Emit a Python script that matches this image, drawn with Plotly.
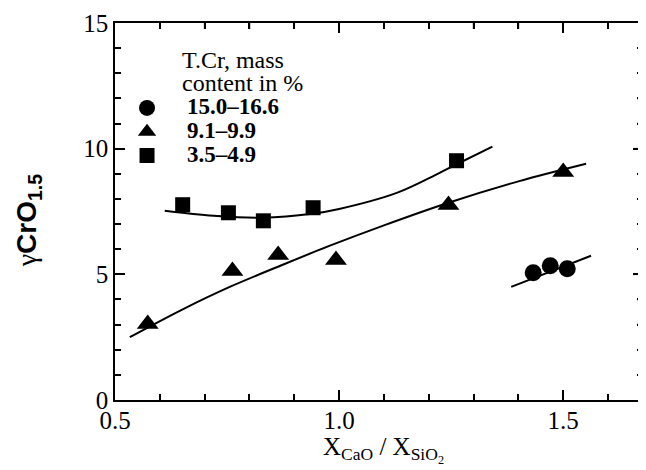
import plotly.graph_objects as go

# ---- data ----
circle_x = [1.433, 1.471, 1.509]
circle_y = [5.06, 5.34, 5.22]
tri_x = [0.573, 0.762, 0.864, 0.993, 1.244, 1.500]
tri_y = [3.02, 5.13, 5.77, 5.57, 7.76, 9.07]
sq_x = [0.651, 0.753, 0.831, 0.942, 1.262]
sq_y = [7.77, 7.45, 7.13, 7.65, 9.52]

# fitted curves
circ_fit_x = [1.384, 1.562]
circ_fit_y = [4.50, 5.74]
tri_fit_x = [0.533, 0.65, 0.756, 0.87, 0.978, 1.10, 1.244, 1.40, 1.551]
tri_fit_y = [2.50, 3.60, 4.50, 5.35, 6.13, 6.95, 7.85, 8.70, 9.40]
sq_fit_x = [0.611, 0.72, 0.83, 0.94, 1.00, 1.13, 1.22, 1.26, 1.342]
sq_fit_y = [7.53, 7.33, 7.25, 7.41, 7.60, 8.25, 9.00, 9.36, 10.08]

legend_labels = ["15.0–16.6", "9.1–9.9", "3.5–4.9"]
x_tickvals = [0.5, 1.0, 1.5]
x_ticktext = ["0.5", "1.0", "1.5"]
y_tickvals = [0, 5, 10, 15]
x_minor_vals = [0.6, 0.7, 0.8, 0.9, 1.1, 1.2, 1.3, 1.4, 1.6]
y_minor_vals = [1, 2, 3, 4, 6, 7, 8, 9, 11, 12, 13, 14]
x_range = [0.5, 1.678]
y_range = [0, 15]

SERIF = "Liberation Serif, Times New Roman, serif"
SANS = "Liberation Sans, Arial, sans-serif"

fig = go.Figure()

line_style = dict(color="black", width=2)
for fx, fy in [(circ_fit_x, circ_fit_y), (tri_fit_x, tri_fit_y), (sq_fit_x, sq_fit_y)]:
    fig.add_trace(go.Scatter(x=fx, y=fy, mode="lines", line=dict(shape="spline", **line_style),
                             showlegend=False, hoverinfo="skip"))

def lab(t):
    return '<b><span style="font-size:23px">' + t + '</span></b>'

fig.add_trace(go.Scatter(x=circle_x, y=circle_y, mode="markers", name=lab(legend_labels[0]),
                         marker=dict(symbol="circle", size=17, color="black")))
fig.add_trace(go.Scatter(x=tri_x, y=tri_y, mode="markers", name=lab(legend_labels[1]),
                         marker=dict(symbol="triangle-up", size=19, color="black")))
fig.add_trace(go.Scatter(x=sq_x, y=sq_y, mode="markers", name=lab(legend_labels[2]),
                         marker=dict(symbol="square", size=15, color="black")))

# the page body has an 8px margin: compensate so the picture lands in place
OFF = 8
W, H = 646 - OFF, 470 - OFF
L, T = 115 - OFF, 23 - OFF
R, B = 1, 70
pw, ph = W - L - R, H - T - B

def px(xp):
    return (xp - OFF - L) / pw

def py(yp):
    return (H - B - (yp - OFF)) / ph

axis_common = dict(showline=True, linecolor="black", linewidth=1.5, mirror="allticks",
                   ticks="inside", ticklen=10, tickwidth=1.5, tickcolor="black",
                   showgrid=False, zeroline=False,
                   tickfont=dict(family=SERIF, size=25, color="black"))

fig.update_layout(
    xaxis=dict(range=x_range, tickmode="array", tickvals=x_tickvals, ticktext=x_ticktext,
               minor=dict(ticks="inside", ticklen=6, tickwidth=1.5, tickcolor="black",
                          tick0=0.5, dtick=0.1),
               ticklabelstandoff=-3, **axis_common),
    yaxis=dict(range=y_range, tickmode="array", tickvals=y_tickvals,
               minor=dict(ticks="inside", ticklen=6, tickwidth=1.5, tickcolor="black",
                          tick0=0, dtick=1),
               ticklabelstandoff=0, **axis_common),
)

# mirrored ticks along the top and right frame edges
tick_line = dict(color="black", width=1.5)
shapes = []
for v in x_tickvals[1:] + x_minor_vals:
    ln = 10 if v in x_tickvals else 6
    shapes.append(dict(type="line", xref="x", yref="y", x0=v, x1=v,
                       ysizemode="pixel", yanchor=y_range[1], y0=0, y1=-ln, line=tick_line))
for v in y_tickvals[1:-1] + y_minor_vals:
    ln = 10 if v in y_tickvals else 6
    shapes.append(dict(type="line", xref="x", yref="y", y0=v, y1=v,
                       xsizemode="pixel", xanchor=x_range[1], x0=0, x1=-ln, line=tick_line))

annotations = [
    dict(text="T.Cr, mass", x=px(180), y=py(60), xref="paper", yref="paper",
         xanchor="left", yanchor="middle", showarrow=False,
         font=dict(family=SERIF, size=24, color="black")),
    dict(text="content in %", x=px(180), y=py(83), xref="paper", yref="paper",
         xanchor="left", yanchor="middle", showarrow=False,
         font=dict(family=SERIF, size=24, color="black")),
    dict(text='<span style="font-family:Liberation Serif;font-weight:normal">γ</span><b>CrO<sub>1.5</sub></b>',
         x=px(28), y=py(220), xref="paper", yref="paper", textangle=-90,
         xanchor="center", yanchor="middle", showarrow=False,
         font=dict(family=SANS, size=28, color="black")),
    dict(text="X<sub>CaO</sub> / X<sub>SiO<sub>2</sub></sub>",
         x=px(385), y=py(450), xref="paper", yref="paper",
         xanchor="center", yanchor="middle", showarrow=False,
         font=dict(family=SERIF, size=25, color="black")),
]

fig.update_layout(
    width=W, height=H,
    margin=dict(l=L, r=R, t=T, b=B),
    plot_bgcolor="white", paper_bgcolor="white",
    annotations=annotations,
    shapes=shapes,
    legend=dict(x=px(107), y=py(91), xanchor="left", yanchor="top",
                bgcolor="rgba(0,0,0,0)", borderwidth=0,
                font=dict(family=SERIF, size=16, color="black"),
                itemwidth=70, itemsizing="trace"),
    showlegend=True,
)

fig.write_html("out.html")
